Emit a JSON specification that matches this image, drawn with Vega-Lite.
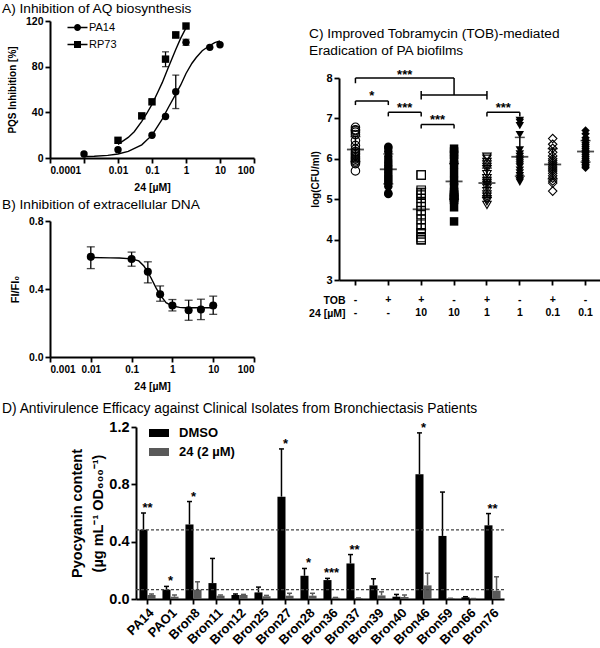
{
  "$schema": "https://vega.github.io/schema/vega-lite/v6.json",
  "background": "white",
  "padding": {"left": 2, "top": 2, "right": 0, "bottom": 0},
  "config": {
    "font": "Liberation Sans",
    "view": {"stroke": null},
    "axis": {"grid": false, "domainColor": "black", "domainWidth": 2, "tickColor": "black", "tickWidth": 1.8, "tickSize": 5,
             "labelColor": "black", "labelFontWeight": "bold", "labelFontSize": 10.5, "labelPadding": 2,
             "titleColor": "black", "titleFontWeight": "bold", "titleFontSize": 10.5},
    "title": {"anchor": "start", "frame": "group", "fontWeight": "normal", "fontSize": 13.7, "color": "black", "offset": 6},
    "legend": {"labelColor": "black"},
    "text": {"color": "black"}
  },
  "datasets": {
    "A_curve": [
      {"s": "PA14", "x": 0.001, "y": 1.3}, {"s": "PA14", "x": 0.002, "y": 1.5}, {"s": "PA14", "x": 0.005, "y": 2.3},
      {"s": "PA14", "x": 0.01, "y": 3.5}, {"s": "PA14", "x": 0.02, "y": 5.8}, {"s": "PA14", "x": 0.05, "y": 11.5},
      {"s": "PA14", "x": 0.1, "y": 20}, {"s": "PA14", "x": 0.2, "y": 34}, {"s": "PA14", "x": 0.3, "y": 44},
      {"s": "PA14", "x": 0.5, "y": 56}, {"s": "PA14", "x": 0.7, "y": 64}, {"s": "PA14", "x": 1, "y": 74},
      {"s": "PA14", "x": 1.5, "y": 83}, {"s": "PA14", "x": 2, "y": 88}, {"s": "PA14", "x": 3, "y": 94},
      {"s": "PA14", "x": 5, "y": 98.5}, {"s": "PA14", "x": 7, "y": 101}, {"s": "PA14", "x": 10, "y": 102.5},
      {"s": "RP73", "x": 0.01, "y": 12}, {"s": "RP73", "x": 0.02, "y": 18}, {"s": "RP73", "x": 0.03, "y": 23},
      {"s": "RP73", "x": 0.05, "y": 32}, {"s": "RP73", "x": 0.07, "y": 39}, {"s": "RP73", "x": 0.1, "y": 47},
      {"s": "RP73", "x": 0.15, "y": 58}, {"s": "RP73", "x": 0.2, "y": 66}, {"s": "RP73", "x": 0.3, "y": 79},
      {"s": "RP73", "x": 0.5, "y": 95}, {"s": "RP73", "x": 0.7, "y": 105}, {"s": "RP73", "x": 1, "y": 114}
    ],
    "A_pts": [
      {"s": "PA14", "x": 0.001, "y": 3.5}, {"s": "PA14", "x": 0.01, "y": 7.3}, {"s": "PA14", "x": 0.1, "y": 19.9},
      {"s": "PA14", "x": 0.25, "y": 36.3}, {"s": "PA14", "x": 0.5, "y": 58}, {"s": "PA14", "x": 1, "y": 101.3},
      {"s": "PA14", "x": 5, "y": 96.9}, {"s": "PA14", "x": 10, "y": 99.2},
      {"s": "RP73", "x": 0.01, "y": 15.5}, {"s": "RP73", "x": 0.05, "y": 36.9}, {"s": "RP73", "x": 0.1, "y": 49.2},
      {"s": "RP73", "x": 0.25, "y": 86.6}, {"s": "RP73", "x": 0.5, "y": 107.7}, {"s": "RP73", "x": 1, "y": 115.6}
    ],
    "A_err": [
      {"x": 0.5, "lo": 43.3, "hi": 72.6}, {"x": 1, "lo": 98.7, "hi": 104},
      {"x": 0.25, "lo": 80, "hi": 93}, {"x": 0.5, "lo": 105.5, "hi": 110.5}
    ],
    "B_curve": [
      {"x": 0.01, "y": 0.585}, {"x": 0.03, "y": 0.583}, {"x": 0.05, "y": 0.582}, {"x": 0.1, "y": 0.577},
      {"x": 0.15, "y": 0.565}, {"x": 0.2, "y": 0.535}, {"x": 0.25, "y": 0.5}, {"x": 0.3, "y": 0.465},
      {"x": 0.4, "y": 0.405}, {"x": 0.5, "y": 0.365}, {"x": 0.7, "y": 0.32}, {"x": 1, "y": 0.3},
      {"x": 1.5, "y": 0.292}, {"x": 2, "y": 0.29}, {"x": 5, "y": 0.29}, {"x": 10, "y": 0.29}
    ],
    "B_pts": [
      {"x": 0.01, "y": 0.589, "lo": 0.52, "hi": 0.648}, {"x": 0.1, "y": 0.576, "lo": 0.534, "hi": 0.617},
      {"x": 0.25, "y": 0.501, "lo": 0.436, "hi": 0.56}, {"x": 0.5, "y": 0.369, "lo": 0.328, "hi": 0.418},
      {"x": 1, "y": 0.303, "lo": 0.271, "hi": 0.338}, {"x": 2.5, "y": 0.275, "lo": 0.216, "hi": 0.334},
      {"x": 5, "y": 0.279, "lo": 0.22, "hi": 0.34}, {"x": 10, "y": 0.303, "lo": 0.251, "hi": 0.358}
    ],
    "C_pts": [
      {"g": "-|-", "r": 9, "v": 6.78}, {"g": "-|-", "r": 6, "v": 6.72}, {"g": "-|-", "r": 13, "v": 6.70}, {"g": "-|-", "r": 4, "v": 6.66},
      {"g": "-|-", "r": 15, "v": 6.6}, {"g": "-|-", "r": 2, "v": 6.45}, {"g": "-|-", "r": 11, "v": 6.33}, {"g": "-|-", "r": 17, "v": 6.24},
      {"g": "-|-", "r": 7, "v": 6.18}, {"g": "-|-", "r": 1, "v": 6.14}, {"g": "-|-", "r": 12, "v": 6.1}, {"g": "-|-", "r": 18, "v": 6.06},
      {"g": "-|-", "r": 5, "v": 6.02}, {"g": "-|-", "r": 14, "v": 5.99}, {"g": "-|-", "r": 3, "v": 5.95}, {"g": "-|-", "r": 16, "v": 5.92},
      {"g": "-|-", "r": 8, "v": 5.88}, {"g": "-|-", "r": 10, "v": 5.7},
      {"g": "+|-", "r": 10, "v": 6.3}, {"g": "+|-", "r": 14, "v": 6.27}, {"g": "+|-", "r": 5, "v": 6.18}, {"g": "+|-", "r": 16, "v": 6.05},
      {"g": "+|-", "r": 3, "v": 5.97}, {"g": "+|-", "r": 12, "v": 5.9}, {"g": "+|-", "r": 8, "v": 5.84}, {"g": "+|-", "r": 1, "v": 5.78},
      {"g": "+|-", "r": 15, "v": 5.72}, {"g": "+|-", "r": 6, "v": 5.66}, {"g": "+|-", "r": 18, "v": 5.6}, {"g": "+|-", "r": 2, "v": 5.55},
      {"g": "+|-", "r": 11, "v": 5.5}, {"g": "+|-", "r": 4, "v": 5.45}, {"g": "+|-", "r": 17, "v": 5.4}, {"g": "+|-", "r": 7, "v": 5.32},
      {"g": "+|-", "r": 13, "v": 5.15}, {"g": "+|-", "r": 9, "v": 5.13},
      {"g": "+|10", "r": 9, "v": 5.6}, {"g": "+|10", "r": 6, "v": 5.6}, {"g": "+|10", "r": 13, "v": 5.22}, {"g": "+|10", "r": 4, "v": 5.15},
      {"g": "+|10", "r": 15, "v": 5.1}, {"g": "+|10", "r": 2, "v": 5.02}, {"g": "+|10", "r": 11, "v": 4.92}, {"g": "+|10", "r": 17, "v": 4.82},
      {"g": "+|10", "r": 7, "v": 4.72}, {"g": "+|10", "r": 1, "v": 4.62}, {"g": "+|10", "r": 12, "v": 4.5}, {"g": "+|10", "r": 18, "v": 4.38},
      {"g": "+|10", "r": 5, "v": 4.28}, {"g": "+|10", "r": 14, "v": 4.17}, {"g": "+|10", "r": 3, "v": 4.14}, {"g": "+|10", "r": 16, "v": 4.05},
      {"g": "+|10", "r": 8, "v": 4.0}, {"g": "+|10", "r": 10, "v": 4.0},
      {"g": "-|10", "r": 10, "v": 6.25}, {"g": "-|10", "r": 14, "v": 6.18}, {"g": "-|10", "r": 5, "v": 6.1}, {"g": "-|10", "r": 16, "v": 5.98},
      {"g": "-|10", "r": 3, "v": 5.85}, {"g": "-|10", "r": 12, "v": 5.65}, {"g": "-|10", "r": 8, "v": 5.45}, {"g": "-|10", "r": 1, "v": 5.3},
      {"g": "-|10", "r": 15, "v": 5.18}, {"g": "-|10", "r": 6, "v": 5.12}, {"g": "-|10", "r": 18, "v": 5.1}, {"g": "-|10", "r": 2, "v": 5.08},
      {"g": "-|10", "r": 11, "v": 5.05}, {"g": "-|10", "r": 4, "v": 5.03}, {"g": "-|10", "r": 17, "v": 5.0}, {"g": "-|10", "r": 7, "v": 4.98},
      {"g": "-|10", "r": 13, "v": 4.8}, {"g": "-|10", "r": 9, "v": 4.45},
      {"g": "+|1", "r": 9, "v": 6.05}, {"g": "+|1", "r": 6, "v": 6.0}, {"g": "+|1", "r": 13, "v": 5.92}, {"g": "+|1", "r": 4, "v": 5.86},
      {"g": "+|1", "r": 15, "v": 5.8}, {"g": "+|1", "r": 2, "v": 5.74}, {"g": "+|1", "r": 11, "v": 5.62}, {"g": "+|1", "r": 17, "v": 5.52},
      {"g": "+|1", "r": 7, "v": 5.45}, {"g": "+|1", "r": 1, "v": 5.4}, {"g": "+|1", "r": 12, "v": 5.35}, {"g": "+|1", "r": 18, "v": 5.28},
      {"g": "+|1", "r": 5, "v": 5.2}, {"g": "+|1", "r": 14, "v": 5.12}, {"g": "+|1", "r": 3, "v": 5.06}, {"g": "+|1", "r": 16, "v": 5.0},
      {"g": "+|1", "r": 8, "v": 4.95}, {"g": "+|1", "r": 10, "v": 4.86},
      {"g": "-|1", "r": 10, "v": 6.95}, {"g": "-|1", "r": 14, "v": 6.9}, {"g": "-|1", "r": 5, "v": 6.82}, {"g": "-|1", "r": 16, "v": 6.6},
      {"g": "-|1", "r": 3, "v": 6.22}, {"g": "-|1", "r": 12, "v": 6.12}, {"g": "-|1", "r": 8, "v": 6.06}, {"g": "-|1", "r": 1, "v": 6.0},
      {"g": "-|1", "r": 15, "v": 5.95}, {"g": "-|1", "r": 6, "v": 5.9}, {"g": "-|1", "r": 18, "v": 5.85}, {"g": "-|1", "r": 2, "v": 5.8},
      {"g": "-|1", "r": 11, "v": 5.72}, {"g": "-|1", "r": 4, "v": 5.65}, {"g": "-|1", "r": 17, "v": 5.58}, {"g": "-|1", "r": 7, "v": 5.52},
      {"g": "-|1", "r": 13, "v": 5.46}, {"g": "-|1", "r": 9, "v": 5.42},
      {"g": "+|0.1", "r": 9, "v": 6.5}, {"g": "+|0.1", "r": 6, "v": 6.36}, {"g": "+|0.1", "r": 13, "v": 6.26}, {"g": "+|0.1", "r": 4, "v": 6.16},
      {"g": "+|0.1", "r": 15, "v": 6.07}, {"g": "+|0.1", "r": 2, "v": 6.0}, {"g": "+|0.1", "r": 11, "v": 5.95}, {"g": "+|0.1", "r": 17, "v": 5.9},
      {"g": "+|0.1", "r": 7, "v": 5.85}, {"g": "+|0.1", "r": 1, "v": 5.8}, {"g": "+|0.1", "r": 12, "v": 5.75}, {"g": "+|0.1", "r": 18, "v": 5.7},
      {"g": "+|0.1", "r": 5, "v": 5.64}, {"g": "+|0.1", "r": 14, "v": 5.58}, {"g": "+|0.1", "r": 3, "v": 5.52}, {"g": "+|0.1", "r": 16, "v": 5.45},
      {"g": "+|0.1", "r": 8, "v": 5.4}, {"g": "+|0.1", "r": 10, "v": 5.2},
      {"g": "-|0.1", "r": 10, "v": 6.7}, {"g": "-|0.1", "r": 14, "v": 6.62}, {"g": "-|0.1", "r": 5, "v": 6.52}, {"g": "-|0.1", "r": 16, "v": 6.46},
      {"g": "-|0.1", "r": 3, "v": 6.4}, {"g": "-|0.1", "r": 12, "v": 6.35}, {"g": "-|0.1", "r": 8, "v": 6.3}, {"g": "-|0.1", "r": 1, "v": 6.25},
      {"g": "-|0.1", "r": 15, "v": 6.2}, {"g": "-|0.1", "r": 6, "v": 6.15}, {"g": "-|0.1", "r": 18, "v": 6.1}, {"g": "-|0.1", "r": 2, "v": 6.05},
      {"g": "-|0.1", "r": 11, "v": 6.0}, {"g": "-|0.1", "r": 4, "v": 5.96}, {"g": "-|0.1", "r": 17, "v": 5.9}, {"g": "-|0.1", "r": 7, "v": 5.86},
      {"g": "-|0.1", "r": 13, "v": 5.82}, {"g": "-|0.1", "r": 9, "v": 5.78}
    ],
    "C_sum": [
      {"g": "-|-", "m": 6.23, "lo": 5.93, "hi": 6.55}, {"g": "+|-", "m": 5.74, "lo": 5.38, "hi": 6.12},
      {"g": "+|10", "m": 4.75, "lo": 4.25, "hi": 5.27}, {"g": "-|10", "m": 5.44, "lo": 5.0, "hi": 5.88},
      {"g": "+|1", "m": 5.4, "lo": 5.05, "hi": 5.77}, {"g": "-|1", "m": 6.05, "lo": 5.57, "hi": 6.53},
      {"g": "+|0.1", "m": 5.86, "lo": 5.5, "hi": 6.25}, {"g": "-|0.1", "m": 6.18, "lo": 5.92, "hi": 6.45}
    ],
    "C_brkh": [
      {"g": "-|-", "g2": "-|10", "y": 8.0}, {"g": "+|10", "g2": "+|1", "y": 7.58},
      {"g": "-|-", "g2": "+|-", "y": 7.43}, {"g": "+|-", "g2": "+|10", "y": 7.15},
      {"g": "+|10", "g2": "-|10", "y": 6.85}, {"g": "+|1", "g2": "-|1", "y": 7.15}
    ],
    "C_brkv": [
      {"g": "-|-", "y1": 8.0, "y2": 7.87}, {"g": "-|10", "y1": 8.0, "y2": 7.58},
      {"g": "+|10", "y1": 7.68, "y2": 7.47}, {"g": "+|1", "y1": 7.68, "y2": 7.47},
      {"g": "-|-", "y1": 7.43, "y2": 7.33}, {"g": "+|-", "y1": 7.43, "y2": 7.33},
      {"g": "+|-", "y1": 7.15, "y2": 7.05}, {"g": "+|10", "y1": 7.15, "y2": 7.05},
      {"g": "+|10", "y1": 6.85, "y2": 6.75}, {"g": "-|10", "y1": 6.85, "y2": 6.75},
      {"g": "+|1", "y1": 7.15, "y2": 7.05}, {"g": "-|1", "y1": 7.15, "y2": 7.05}
    ],
    "C_lbl": [
      {"g": "+|-", "y": 8.16, "t": "***"}, {"g": "-|-", "y": 7.62, "t": "*"},
      {"g": "+|-", "y": 7.33, "t": "***"}, {"g": "+|10", "y": 7.03, "t": "***"},
      {"g": "+|1", "y": 7.33, "t": "***"}
    ],
    "D_bars": [
      {"strain": "PA14", "trt": "DMSO", "v": 0.484, "hi": 0.60}, {"strain": "PA14", "trt": "24 (2 µM)", "v": 0.028, "hi": 0.035},
      {"strain": "PAO1", "trt": "DMSO", "v": 0.065, "hi": 0.088}, {"strain": "PAO1", "trt": "24 (2 µM)", "v": 0.016, "hi": 0.028},
      {"strain": "Bron8", "trt": "DMSO", "v": 0.52, "hi": 0.68}, {"strain": "Bron8", "trt": "24 (2 µM)", "v": 0.065, "hi": 0.12},
      {"strain": "Bron11", "trt": "DMSO", "v": 0.111, "hi": 0.283}, {"strain": "Bron11", "trt": "24 (2 µM)", "v": 0.023, "hi": 0.028},
      {"strain": "Bron12", "trt": "DMSO", "v": 0.028, "hi": 0.035}, {"strain": "Bron12", "trt": "24 (2 µM)", "v": 0.028, "hi": 0.032},
      {"strain": "Bron25", "trt": "DMSO", "v": 0.046, "hi": 0.083}, {"strain": "Bron25", "trt": "24 (2 µM)", "v": 0.019, "hi": 0.025},
      {"strain": "Bron27", "trt": "DMSO", "v": 0.714, "hi": 1.047}, {"strain": "Bron27", "trt": "24 (2 µM)", "v": 0.023, "hi": 0.04},
      {"strain": "Bron28", "trt": "DMSO", "v": 0.162, "hi": 0.213}, {"strain": "Bron28", "trt": "24 (2 µM)", "v": 0.023, "hi": 0.04},
      {"strain": "Bron36", "trt": "DMSO", "v": 0.132, "hi": 0.144}, {"strain": "Bron36", "trt": "24 (2 µM)", "v": 0.009, "hi": 0.011},
      {"strain": "Bron37", "trt": "DMSO", "v": 0.248, "hi": 0.31}, {"strain": "Bron37", "trt": "24 (2 µM)", "v": 0.005, "hi": 0.007},
      {"strain": "Bron39", "trt": "DMSO", "v": 0.095, "hi": 0.141}, {"strain": "Bron39", "trt": "24 (2 µM)", "v": 0.025, "hi": 0.05},
      {"strain": "Bron40", "trt": "DMSO", "v": 0.016, "hi": 0.032}, {"strain": "Bron40", "trt": "24 (2 µM)", "v": 0.014, "hi": 0.028},
      {"strain": "Bron46", "trt": "DMSO", "v": 0.871, "hi": 1.159}, {"strain": "Bron46", "trt": "24 (2 µM)", "v": 0.095, "hi": 0.18},
      {"strain": "Bron59", "trt": "DMSO", "v": 0.44, "hi": 0.746}, {"strain": "Bron59", "trt": "24 (2 µM)", "v": 0.004, "hi": 0.005},
      {"strain": "Bron66", "trt": "DMSO", "v": 0.012, "hi": 0.016}, {"strain": "Bron66", "trt": "24 (2 µM)", "v": 0.002, "hi": 0.003},
      {"strain": "Bron76", "trt": "DMSO", "v": 0.514, "hi": 0.596}, {"strain": "Bron76", "trt": "24 (2 µM)", "v": 0.058, "hi": 0.155}
    ],
    "D_ref": [{"y": 0.482}, {"y": 0.065}],
    "D_sig": [
      {"strain": "PA14", "s": "**", "y": 0.60}, {"strain": "PAO1", "s": "*", "y": 0.088},
      {"strain": "Bron8", "s": "*", "y": 0.68}, {"strain": "Bron27", "s": "*", "y": 1.047},
      {"strain": "Bron28", "s": "*", "y": 0.213}, {"strain": "Bron36", "s": "***", "y": 0.144},
      {"strain": "Bron37", "s": "**", "y": 0.31}, {"strain": "Bron46", "s": "*", "y": 1.159},
      {"strain": "Bron76", "s": "**", "y": 0.596}
    ],
    "empty": []
  },
  "resolve": {"legend": {"color": "independent", "shape": "independent"}},
  "spacing": 10,
  "vconcat": [
    {
      "spacing": 53,
      "resolve": {"legend": {"color": "independent", "shape": "independent"}},
      "hconcat": [
        {
          "spacing": 5,
          "resolve": {"legend": {"color": "independent", "shape": "independent"}},
          "vconcat": [
            {
              "width": 204,
              "height": 137,
              "title": {"text": "A) Inhibition of AQ biosynthesis", "dx": -48, "offset": 0},
              "layer": [
                {
                  "data": {"name": "A_curve"},
                  "mark": {"type": "line", "color": "black", "strokeWidth": 1.4},
                  "encoding": {
                    "x": {"field": "x", "type": "quantitative", "title": "24 [µM]",
                          "scale": {"type": "log", "domain": [0.0001, 100], "nice": false},
                          "axis": {"values": [0.0001, 0.001, 0.01, 0.1, 1, 10, 100], "format": "~f", "labelFontSize": 10, "titlePadding": 7}},
                    "y": {"field": "y", "type": "quantitative", "title": "PQS Inhibition [%]",
                          "scale": {"domain": [0, 120], "nice": false},
                          "axis": {"values": [0, 20, 40, 60, 80, 100, 120], "titleFontSize": 10, "titlePadding": 8}},
                    "detail": {"field": "s"}
                  }
                },
                {
                  "data": {"name": "A_err"},
                  "mark": {"type": "errorbar", "color": "black", "ticks": {"size": 7, "thickness": 1.3}, "rule": {"strokeWidth": 1.3}},
                  "encoding": {
                    "x": {"field": "x", "type": "quantitative", "title": "24 [µM]"},
                    "y": {"field": "lo", "type": "quantitative", "title": "PQS Inhibition [%]"},
                    "y2": {"field": "hi"}
                  }
                },
                {
                  "data": {"name": "A_pts"},
                  "mark": {"type": "point", "filled": true, "size": 55, "color": "black", "opacity": 1},
                  "encoding": {
                    "x": {"field": "x", "type": "quantitative", "title": "24 [µM]"},
                    "y": {"field": "y", "type": "quantitative", "title": "PQS Inhibition [%]"},
                    "shape": {"field": "s", "type": "nominal", "scale": {"domain": ["PA14", "RP73"], "range": ["circle", "square"]}, "legend": null}
                  }
                },
                {
                  "data": {"name": "A_pts"},
                  "mark": {"type": "point", "filled": true, "size": 100, "opacity": 0, "color": "black"},
                  "encoding": {
                    "x": {"field": "x", "type": "quantitative", "title": "24 [µM]"},
                    "y": {"field": "y", "type": "quantitative", "title": "PQS Inhibition [%]"},
                    "shape": {"field": "s", "type": "nominal",
                              "scale": {"domain": ["PA14", "RP73"], "range": [
                                "M-2,-0.15H-0.6V0.15H-2Z M0.6,-0.15H2V0.15H0.6Z M-0.7,0A0.7,0.7 0 1,1 0.7,0A0.7,0.7 0 1,1 -0.7,0Z",
                                "M-2,-0.15H-0.6V0.15H-2Z M0.6,-0.15H2V0.15H0.6Z M-0.7,-0.7H0.7V0.7H-0.7Z"]},
                              "legend": {"orient": "none", "legendX": 22, "legendY": 1, "title": null, "padding": 0,
                                         "labelFontSize": 11, "labelFontWeight": "normal", "labelOffset": 6, "rowPadding": 5,
                                         "symbolOpacity": 1, "symbolFillColor": "black", "symbolStrokeColor": "black", "symbolStrokeWidth": 0, "symbolSize": 100}}
                  }
                }
              ],
              "resolve": {"scale": {"shape": "independent"}}
            },
            {
              "width": 204,
              "height": 136,
              "title": {"text": "B) Inhibition of extracellular DNA", "dx": -48, "offset": 4},
              "layer": [
                {
                  "data": {"name": "B_curve"},
                  "mark": {"type": "line", "color": "black", "strokeWidth": 1.4},
                  "encoding": {
                    "x": {"field": "x", "type": "quantitative", "title": "24 [µM]",
                          "scale": {"type": "log", "domain": [0.001, 100], "nice": false},
                          "axis": {"values": [0.001, 0.01, 0.1, 1, 10, 100], "format": "~f", "labelFontSize": 10, "titlePadding": 7}},
                    "y": {"field": "y", "type": "quantitative", "title": "FI/FI₀",
                          "scale": {"domain": [0, 0.8], "nice": false},
                          "axis": {"values": [0, 0.2, 0.4, 0.6, 0.8], "format": ".1f", "titleFontSize": 11, "titlePadding": 8}}
                  }
                },
                {
                  "data": {"name": "B_pts"},
                  "mark": {"type": "errorbar", "color": "black", "ticks": {"size": 8, "thickness": 1.3}, "rule": {"strokeWidth": 1.3}},
                  "encoding": {
                    "x": {"field": "x", "type": "quantitative", "title": "24 [µM]"},
                    "y": {"field": "lo", "type": "quantitative", "title": "FI/FI₀"},
                    "y2": {"field": "hi"}
                  }
                },
                {
                  "data": {"name": "B_pts"},
                  "mark": {"type": "point", "filled": true, "size": 65, "color": "black", "opacity": 1, "shape": "circle"},
                  "encoding": {
                    "x": {"field": "x", "type": "quantitative", "title": "24 [µM]"},
                    "y": {"field": "y", "type": "quantitative", "title": "FI/FI₀"}
                  }
                }
              ]
            }
          ]
        },
        {
          "spacing": 4,
          "resolve": {"legend": {"color": "independent", "shape": "independent"}},
          "vconcat": [
            {"width": 1, "height": 1, "data": {"name": "empty"}, "mark": "point"},
            {
              "width": 263,
              "height": 202,
              "title": {"text": ["C) Improved Tobramycin (TOB)-mediated", "Eradication of PA biofilms"], "dx": -30, "lineHeight": 17, "offset": 11},
              "encoding": {
                "x": {"field": "g", "type": "nominal", "title": ["TOB", "24 [µM]"],
                      "scale": {"domain": ["-|-", "+|-", "+|10", "-|10", "+|1", "-|1", "+|0.1", "-|0.1"], "paddingInner": 0, "paddingOuter": 0},
                      "axis": {"titleAngle": 0, "titleAlign": "right", "titleBaseline": "top", "titleX": 6, "titleY": 15,
                               "titleLineHeight": 13, "titleFontSize": 10.5, "labelExpr": "split(datum.label, '|')", "labelLineHeight": 13,
                               "labelAngle": 0, "labelFontSize": 10.5, "labelPadding": 9}}
              },
              "layer": [
                {
                  "data": {"name": "C_brkh"},
                  "mark": {"type": "rule", "color": "black", "strokeWidth": 1.5},
                  "encoding": {
                    "x2": {"field": "g2"},
                    "y": {"field": "y", "type": "quantitative", "title": "log(CFU/ml)",
                          "scale": {"domain": [3, 8], "nice": false},
                          "axis": {"values": [3, 4, 5, 6, 7, 8], "titleFontSize": 10, "labelFontSize": 11, "titlePadding": 5}}
                  }
                },
                {
                  "data": {"name": "C_brkv"},
                  "mark": {"type": "rule", "color": "black", "strokeWidth": 1.5},
                  "encoding": {
                    "y": {"field": "y1", "type": "quantitative", "title": "log(CFU/ml)"},
                    "y2": {"field": "y2"}
                  }
                },
                {
                  "data": {"name": "C_lbl"},
                  "mark": {"type": "text", "fontSize": 13, "fontWeight": "bold", "dx": 16.4, "dy": 7, "baseline": "alphabetic"},
                  "encoding": {
                    "y": {"field": "y", "type": "quantitative", "title": "log(CFU/ml)"},
                    "text": {"field": "t"}
                  }
                },
                {
                  "data": {"name": "C_pts"},
                  "transform": [{"filter": {"field": "g", "oneOf": ["-|-", "+|10", "+|1", "+|0.1"]}}],
                  "mark": {"type": "point", "filled": false, "size": 72, "stroke": "black", "strokeWidth": 1.1, "opacity": 1,
                           "dx": {"expr": "(datum.r - 9.5) * 1.05"}},
                  "encoding": {
                    "y": {"field": "v", "type": "quantitative", "title": "log(CFU/ml)"},
                    "shape": {"field": "g", "type": "nominal",
                              "scale": {"domain": ["-|-", "+|-", "+|10", "-|10", "+|1", "-|1", "+|0.1", "-|0.1"],
                                        "range": ["circle", "circle", "square", "square", "triangle-down", "triangle-down", "diamond", "diamond"]},
                              "legend": null}
                  }
                },
                {
                  "data": {"name": "C_pts"},
                  "transform": [{"filter": {"field": "g", "oneOf": ["+|-", "-|10", "-|1", "-|0.1"]}}],
                  "mark": {"type": "point", "filled": true, "size": 72, "color": "black", "opacity": 1,
                           "dx": {"expr": "(datum.r - 9.5) * 1.05"}},
                  "encoding": {
                    "y": {"field": "v", "type": "quantitative", "title": "log(CFU/ml)"},
                    "shape": {"field": "g", "type": "nominal", "legend": null}
                  }
                },
                {
                  "data": {"name": "C_sum"},
                  "mark": {"type": "errorbar", "color": "black", "ticks": {"size": 10, "thickness": 1.5}, "rule": {"strokeWidth": 1.5}},
                  "encoding": {
                    "y": {"field": "lo", "type": "quantitative", "title": "log(CFU/ml)"},
                    "y2": {"field": "hi"}
                  }
                },
                {
                  "data": {"name": "C_sum"},
                  "mark": {"type": "tick", "orient": "horizontal", "color": "black", "size": 17, "thickness": 1.8},
                  "encoding": {
                    "y": {"field": "m", "type": "quantitative", "title": "log(CFU/ml)"}
                  }
                }
              ]
            }
          ]
        }
      ]
    },
    {
      "bounds": "flush",
      "spacing": 85,
      "resolve": {"legend": {"color": "independent", "shape": "independent"}},
      "hconcat": [
        {"width": 1, "height": 1, "data": {"name": "empty"}, "mark": "point"},
        {
          "width": 368,
          "height": 172,
          "title": {"text": "D) Antivirulence Efficacy against Clinical Isolates from Bronchiectasis Patients", "dx": -134, "fontSize": 13.8, "offset": 3},
          "encoding": {
            "x": {"field": "strain", "type": "nominal", "title": null,
                  "scale": {"domain": ["PA14", "PAO1", "Bron8", "Bron11", "Bron12", "Bron25", "Bron27", "Bron28", "Bron36", "Bron37", "Bron39", "Bron40", "Bron46", "Bron59", "Bron66", "Bron76"],
                            "paddingInner": 0.3, "paddingOuter": 0.15},
                  "axis": {"labelAngle": -45, "labelFontSize": 13, "labelPadding": 2}}
          },
          "layer": [
            {
              "data": {"name": "D_bars"},
              "mark": {"type": "bar", "opacity": 1},
              "encoding": {
                "xOffset": {"field": "trt", "type": "nominal", "scale": {"domain": ["DMSO", "24 (2 µM)"]}},
                "y": {"field": "v", "type": "quantitative", "title": ["Pyocyanin content", "(µg mL⁻¹ OD₆₀₀⁻¹)"],
                      "scale": {"domain": [0, 1.2], "nice": false},
                      "axis": {"values": [0, 0.2, 0.4, 0.6, 0.8, 1.0, 1.2], "format": ".1f", "labelFontSize": 14.5,
                               "titleFontSize": 14.5, "titleLineHeight": 21, "titlePadding": 3}},
                "color": {"field": "trt", "type": "nominal",
                          "scale": {"domain": ["DMSO", "24 (2 µM)"], "range": ["#000000", "#595959"]},
                          "legend": {"orient": "none", "legendX": 13, "legendY": -4, "title": null, "padding": 0,
                                     "symbolType": "M-1,-0.4H1V0.4H-1Z", "symbolSize": 400, "symbolStrokeWidth": 0, "symbolOpacity": 1,
                                     "labelFontSize": 13, "labelFontWeight": "bold", "labelOffset": 10, "rowPadding": 2}}
              }
            },
            {
              "data": {"name": "D_bars"},
              "mark": {"type": "rule", "strokeWidth": 1.5},
              "encoding": {
                "xOffset": {"field": "trt", "type": "nominal"},
                "y": {"field": "v", "type": "quantitative", "title": ["Pyocyanin content", "(µg mL⁻¹ OD₆₀₀⁻¹)"]},
                "y2": {"field": "hi"},
                "color": {"field": "trt", "type": "nominal"}
              }
            },
            {
              "data": {"name": "D_bars"},
              "mark": {"type": "tick", "orient": "horizontal", "size": 5, "thickness": 1.5, "opacity": 1},
              "encoding": {
                "xOffset": {"field": "trt", "type": "nominal"},
                "y": {"field": "hi", "type": "quantitative", "title": ["Pyocyanin content", "(µg mL⁻¹ OD₆₀₀⁻¹)"]},
                "color": {"field": "trt", "type": "nominal"}
              }
            },
            {
              "data": {"name": "D_ref"},
              "mark": {"type": "rule", "color": "#444444", "strokeWidth": 1.3, "strokeDash": [3, 2]},
              "encoding": {
                "x": null,
                "y": {"field": "y", "type": "quantitative", "title": ["Pyocyanin content", "(µg mL⁻¹ OD₆₀₀⁻¹)"]}
              }
            },
            {
              "data": {"name": "D_sig"},
              "mark": {"type": "text", "fontSize": 13, "fontWeight": "bold", "baseline": "alphabetic", "dy": -1},
              "encoding": {
                "y": {"field": "y", "type": "quantitative", "title": ["Pyocyanin content", "(µg mL⁻¹ OD₆₀₀⁻¹)"]},
                "text": {"field": "s"}
              }
            }
          ]
        }
      ]
    }
  ]
}
